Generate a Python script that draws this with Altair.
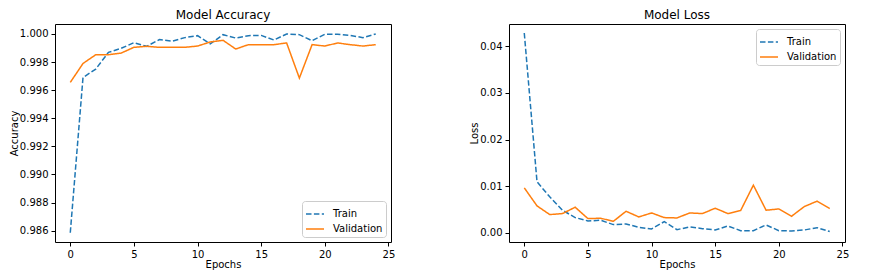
import altair as alt
import pandas as pd

epochs = list(range(25))
acc_train = [0.98585, 0.99690, 0.99750, 0.99869, 0.99898, 0.99938, 0.99912, 0.99960,
             0.99948, 0.99974, 0.99988, 0.99929, 0.99995, 0.99971, 0.99988, 0.99990,
             0.99957, 1.00000, 0.99995, 0.99952, 0.99998, 0.99998, 0.99990, 0.99974, 1.00000]
acc_val = [0.99655, 0.99790, 0.99852, 0.99852, 0.99864, 0.99905, 0.99912, 0.99905,
           0.99905, 0.99905, 0.99914, 0.99943, 0.99955, 0.99893, 0.99924, 0.99924,
           0.99924, 0.99936, 0.99686, 0.99924, 0.99914, 0.99936, 0.99924, 0.99914, 0.99924]
loss_train = [0.0428, 0.01095, 0.00773, 0.00487, 0.00329, 0.00258, 0.00272, 0.00179,
              0.00193, 0.00122, 0.00086, 0.00243, 0.00072, 0.00129, 0.00093, 0.00064,
              0.00150, 0.00050, 0.00050, 0.00172, 0.00050, 0.00043, 0.00064, 0.00114, 0.00030]
loss_val = [0.00966, 0.00580, 0.00394, 0.00415, 0.00551, 0.00308, 0.00315, 0.00250,
            0.00465, 0.00343, 0.00429, 0.00329, 0.00322, 0.00429, 0.00415, 0.00530,
            0.00415, 0.00480, 0.01023, 0.00487, 0.00515, 0.00358, 0.00565, 0.00680, 0.00522]
series = ["Train", "Validation"]
x_ticks = [0, 5, 10, 15, 20, 25]
acc_ticks = [0.986, 0.988, 0.990, 0.992, 0.994, 0.996, 0.998, 1.000]
loss_ticks = [0.00, 0.01, 0.02, 0.03, 0.04]

acc_df = pd.DataFrame({
    "epoch": epochs * 2,
    "value": acc_train + acc_val,
    "series": ["Train"] * 25 + ["Validation"] * 25,
})
loss_df = pd.DataFrame({
    "epoch": epochs * 2,
    "value": loss_train + loss_val,
    "series": ["Train"] * 25 + ["Validation"] * 25,
})

FONT = "DejaVu Sans"
W, H = 336, 218


def panel(df, title, ytitle, ydomain, yticks, yfmt, legend_orient):
    legend = alt.Legend(
        title=None, orient=legend_orient, offset=5,
        fillColor="white", strokeColor="#cccccc", cornerRadius=3,
        padding=3, labelFontSize=10, labelFont=FONT, labelColor="black",
        symbolType="stroke", symbolStrokeWidth=1.5, symbolSize=324,
        labelOffset=8, rowPadding=-3,
    )
    return alt.Chart(df).mark_line(strokeWidth=1.5).encode(
        x=alt.X("epoch:Q", title="Epochs",
                scale=alt.Scale(domain=[-1.2, 25.2], nice=False, zero=False),
                axis=alt.Axis(values=x_ticks, format="d")),
        y=alt.Y("value:Q", title=ytitle,
                scale=alt.Scale(domain=ydomain, nice=False, zero=False),
                axis=alt.Axis(values=yticks, format=yfmt)),
        color=alt.Color("series:N",
                        scale=alt.Scale(domain=series, range=["#1f77b4", "#ff7f0e"]),
                        legend=legend),
        strokeDash=alt.StrokeDash("series:N",
                                  scale=alt.Scale(domain=series, range=[[5.5, 2.4], [1, 0]]),
                                  legend=legend),
    ).properties(
        width=W, height=H,
        title=alt.Title(title, fontSize=12, fontWeight="normal", font=FONT,
                        color="black", offset=2),
    )


left = panel(acc_df, "Model Accuracy", "Accuracy", [0.98519, 1.00071], acc_ticks, ".3f", "bottom-right")
right = panel(loss_df, "Model Loss", "Loss", [-0.00193, 0.04472], loss_ticks, ".2f", "top-right")

chart = alt.hconcat(left, right, spacing=73).resolve_scale(
    color="independent", strokeDash="independent", x="independent", y="independent"
).resolve_legend(color="independent", strokeDash="independent").properties(
    padding={"left": 0, "top": 0, "right": 5, "bottom": 5},
    background="white",
).configure_view(
    stroke="black", strokeWidth=1,
).configure_axis(
    grid=False, domain=False,
    labelFont=FONT, labelFontSize=10, labelColor="black",
    titleFont=FONT, titleFontSize=10, titleFontWeight="normal", titleColor="black",
    tickColor="black", tickSize=4, labelPadding=3, titlePadding=0,
)

chart.save("out.html", embed_options={"renderer": "svg", "actions": False})
